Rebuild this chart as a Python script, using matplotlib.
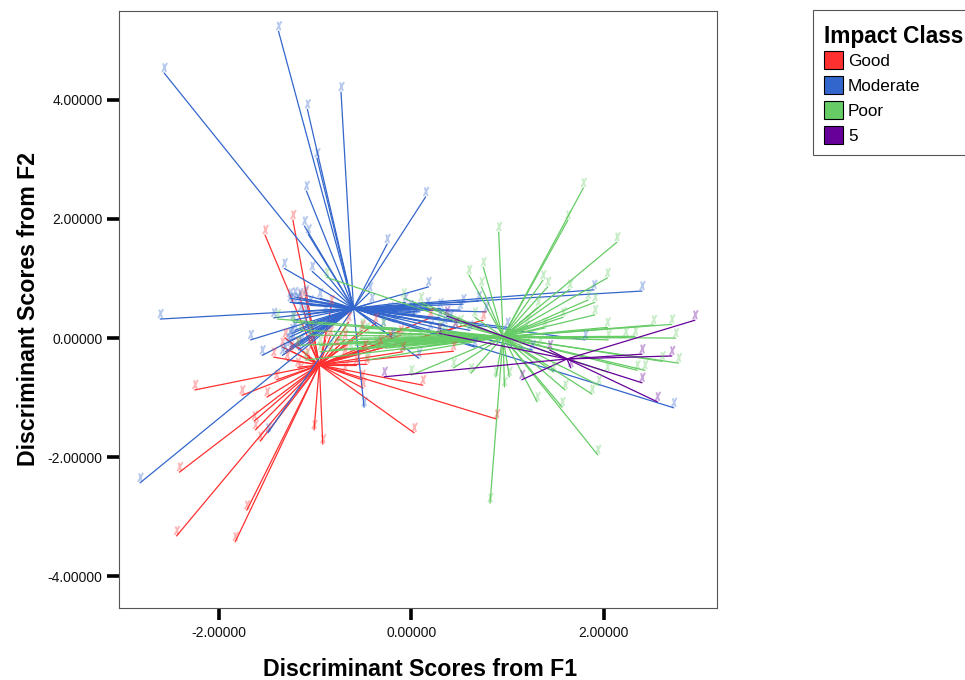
import matplotlib
matplotlib.use("Agg")
import matplotlib.pyplot as plt
from matplotlib.markers import MarkerStyle
from matplotlib.offsetbox import DrawingArea, VPacker
from matplotlib.patches import Patch
from matplotlib.path import Path

plt.rcParams['font.family'] = ['Liberation Sans', 'DejaVu Sans']

classes = ['Good', 'Moderate', 'Poor', '5']
colors = ['#FF3030', '#3366CC', '#66CC66', '#660099']

centroid_x = [-0.955, -0.60, 0.955, 1.62]
centroid_y = [-0.45, 0.50, 0.02, -0.35]

good_x = [-1.52,-1.23,-1.15,-1.10,-0.83,-1.34,-1.43,-1.29,-1.18,-1.08,-2.25,-1.76,-1.50,-1.40,-1.63,-1.62,-1.57,-1.01,-0.92,0.03,-2.41,-2.44,-1.83,-1.71,0.12,-0.50,-0.51,0.89,0.75,0.20,0.44,-0.46,-0.51,-0.65,-0.37,-0.77,-0.84,-0.69,-0.22,-1.15,-1.31,-1.25,-0.09,-0.69,-0.48,-0.32,-0.57,-0.69,-1.18,-1.05,-0.89,-0.11,0.46]
good_y = [1.73,1.98,0.64,0.69,0.55,-0.15,-0.32,-0.37,-0.49,-0.32,-0.87,-0.96,-0.99,-0.70,-1.39,-1.54,-1.73,-1.54,-1.78,-1.59,-2.25,-3.32,-3.42,-2.89,-0.79,-0.84,-0.70,-1.36,0.30,0.34,-0.22,-0.44,0.13,0.27,0.25,-0.15,0.03,-0.03,-0.03,-0.57,0.00,-0.22,-0.23,-0.28,-0.20,-0.12,-0.45,-0.57,-0.15,-0.12,-0.03,0.05,0.17]

moderate_x = [-1.38,-2.57,-1.08,-0.73,-0.98,-1.09,0.15,-1.11,-1.07,-0.25,-1.32,-1.03,0.18,-2.61,1.90,2.40,-0.06,0.17,0.04,0.70,0.54,0.78,1.81,1.00,0.66,1.26,0.08,2.73,-0.49,-1.49,-2.82,-1.67,-1.55,-1.43,-1.26,-1.21,-1.10,-1.23,-1.16,-1.26,-1.18,-1.23,-1.26,-1.24,-1.28,-1.21,-1.34,-1.31,-1.26,-1.23,-0.41,-0.29,-0.19,0.04,-1.05,-0.95,-0.89,-0.43,0.09,0.30,0.41,0.61,0.46,0.30,0.35,0.20,-0.17,-0.01,-0.11,-0.22,0.51,-1.15,-1.05,-1.10,-1.17,-1.15,-1.10,-1.00]
moderate_y = [5.15,4.45,3.84,4.13,3.02,2.47,2.37,1.88,1.74,1.58,1.17,1.12,0.86,0.32,0.81,0.79,0.60,0.52,0.39,0.62,0.57,0.44,-0.03,0.18,-0.15,-0.20,-0.34,-1.17,-1.16,-1.59,-2.43,-0.03,-0.29,0.34,0.60,0.69,0.72,0.59,0.67,0.67,0.60,0.30,0.02,0.08,-0.07,0.13,-0.29,-0.23,-0.15,-0.03,0.59,0.18,0.00,0.42,0.55,0.67,0.44,0.77,0.44,0.50,0.30,0.13,0.17,0.34,0.22,0.13,0.27,0.47,0.34,0.44,0.47,-0.12,0.05,0.22,-0.20,0.44,0.39,0.13]

poor_x = [1.79,1.63,2.14,0.91,0.60,0.75,0.73,1.37,1.42,1.65,2.04,1.84,1.91,1.91,1.58,1.32,1.39,0.10,0.66,2.04,2.05,2.23,2.33,2.52,2.71,2.75,2.61,2.78,2.35,2.43,2.04,1.95,1.88,1.60,1.57,1.31,1.48,0.97,1.02,0.88,0.62,0.44,0.00,1.94,0.82,-0.88,-1.39,-1.23,-1.18,-1.10,-0.08,-0.29,-0.46,-0.51,-0.46,-0.08,-0.32,-0.95,-0.79,-0.69,-0.37,-1.15,-1.05,0.20,0.35,0.30,0.51,0.09,1.24,1.13,1.34,1.21,-0.74,-0.58,-0.53,-0.27,-0.17,-0.01,-0.11,-0.63,-0.84,-0.95]
poor_y = [2.52,1.98,1.61,1.78,1.06,1.19,0.86,0.97,0.86,0.82,1.01,0.64,0.60,0.39,0.35,0.52,0.17,0.60,0.35,0.18,-0.03,0.02,0.03,0.22,0.23,0.00,-0.39,-0.42,-0.54,-0.54,-0.57,-0.79,-0.94,-0.87,-1.16,-1.07,-0.57,-0.82,-0.65,-0.65,-0.59,-0.50,-0.62,-1.96,-2.77,1.02,0.32,0.27,-0.12,-0.37,0.02,0.18,-0.37,0.17,0.10,0.67,-0.03,-0.12,-0.03,0.10,-0.12,0.13,0.05,-0.12,0.03,0.13,0.22,-0.03,-0.03,-0.20,-0.12,0.22,-0.07,-0.12,0.00,-0.17,-0.07,0.00,-0.20,-0.20,-0.20,-0.23]

class5_x = [2.95,2.71,2.40,2.40,2.56,1.15,0.37,1.66,-0.28,0.29,1.44]
class5_y = [0.30,-0.30,-0.27,-0.75,-1.07,-0.70,0.37,-0.50,-0.65,0.08,-0.20]

xs = [good_x, moderate_x, poor_x, class5_x]
ys = [good_y, moderate_y, poor_y, class5_y]

x_ticks = [-2, 0, 2]
y_ticks = [-4, -2, 0, 2, 4]

# small leaning cross that sits just above the end of each line
glyph = Path([(-1.0, 9.5), (2.0, 1.0), (3.0, 10.0), (-2.0, 1.0)],
             [Path.MOVETO, Path.LINETO, Path.MOVETO, Path.LINETO])
glyph_marker = MarkerStyle(glyph)

fig = plt.figure(figsize=(9.65, 6.8), dpi=100, facecolor='white')
ax = fig.add_axes([118.5 / 965, 1 - 608 / 680, (717 - 118.5) / 965, (608 - 11) / 680])

for i, color in enumerate(colors):
    for x, y in zip(xs[i], ys[i]):
        ax.plot([centroid_x[i], x], [centroid_y[i], y], color=color, lw=0.9,
                solid_capstyle='round', zorder=2 + i)
    ax.scatter(xs[i], ys[i], marker=glyph_marker, s=207, facecolors='none',
               edgecolors=color, linewidths=1.4, alpha=0.35, zorder=6)

ax.set_xlim(-3.044, 3.180)
ax.set_ylim(-4.53, 5.49)
ax.set_xticks(x_ticks)
ax.set_yticks(y_ticks)
ax.xaxis.set_major_formatter(lambda v, p: f'{v:.5f}')
ax.yaxis.set_major_formatter(lambda v, p: f'{v:.5f}')
ax.tick_params(axis='both', length=8.6, width=2.6, color='black', labelsize=10, labelcolor='#111111')
ax.tick_params(axis='x', pad=4.6)
ax.tick_params(axis='y', pad=3)
for s in ax.spines.values():
    s.set_color('#555555')
    s.set_linewidth(0.8)

ax.set_xlabel('Discriminant Scores from F1', fontsize=16.65, fontweight='bold', labelpad=12.5)
ax.xaxis.label.set_x(0.504)
ax.set_ylabel('Discriminant Scores from F2', fontsize=16.65, fontweight='bold', labelpad=5.6)

handles = [Patch(facecolor=c, edgecolor='black', linewidth=0.8) for c in colors]
leg = fig.legend(handles, classes, title='Impact Class', loc='upper left',
                 bbox_to_anchor=(813 / 965, 1 - 10 / 680), bbox_transform=fig.transFigure,
                 borderaxespad=0, fontsize=12.3, alignment='left', fancybox=False,
                 framealpha=1, edgecolor='#555555', handlelength=1.12, handleheight=1.28,
                 handletextpad=0.30, labelspacing=0.38, borderpad=0.62,
                 title_fontproperties={'size': 16.3, 'weight': 'bold'})
leg.get_frame().set_linewidth(0.8)
# extra room above the legend title
title_box = leg._legend_box._children[0]
leg._legend_box._children[0] = VPacker(pad=0, sep=0, align='left',
                                       children=[DrawingArea(1, 3.3), title_box])
leg._legend_box.sep = 2

fig.savefig('out.png', dpi=100)
